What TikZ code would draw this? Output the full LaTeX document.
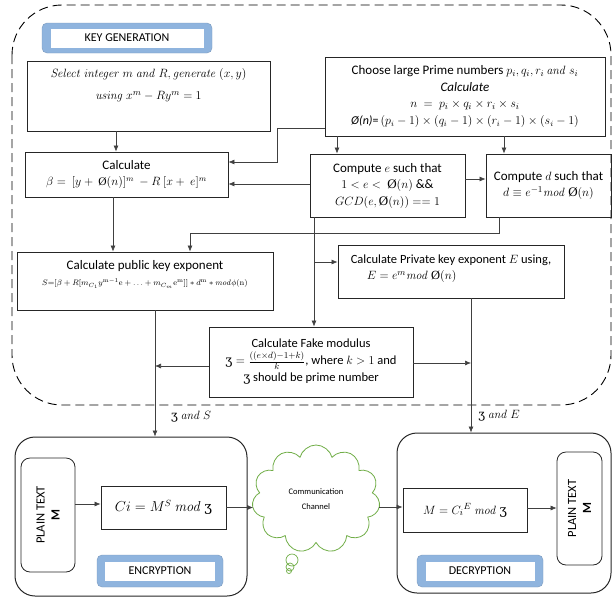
\documentclass[tikz,border=0pt]{standalone}
\usepackage{amsmath,amssymb}
\usepackage[no-math]{fontspec}
\setmainfont{Carlito-Regular.ttf}[ItalicFont=Carlito-Italic.ttf,BoldFont=Carlito-Bold.ttf,BoldItalicFont=Carlito-BoldItalic.ttf]
\newfontfamily\ezhfont{DejaVu Serif}
\newfontfamily\ofont{Liberation Serif}
\newcommand{\zh}{\text{\ezhfont ʒ}}
\newcommand{\Oh}{\text{\ofont Ø}}
\usetikzlibrary{arrows.meta,shapes.symbols}
\definecolor{labelblue}{RGB}{143,180,222}
\definecolor{cloudgreen}{RGB}{112,173,71}
\tikzset{mybox/.style={draw=black!85,line width=0.9pt,align=center,inner sep=3pt}}
\tikzset{myarrow/.style={draw=black!75,line width=0.6pt,-{Latex[length=6pt,width=5pt]}}}
\tikzset{mytag/.style={fill=labelblue,draw=labelblue!85!black,line width=0.4pt,rounded corners=5pt}}
\tikzset{mytagtext/.style={fill=white,inner sep=0pt,font=\fontsize{12}{14}\selectfont}}
\tikzset{mypanel/.style={draw=black!85,line width=1pt,rounded corners=20pt}}
\tikzset{myplain/.style={draw=black!85,line width=0.8pt,rounded corners=9pt,rotate=90,align=center,font=\fontsize{12.5}{15}\selectfont}}

\begin{document}
\begin{tikzpicture}[x=1pt,y=-1pt,font=\fontsize{13}{16.5}\selectfont]
	\useasboundingbox (0,0) rectangle (614,598);

	\draw[dash pattern=on 9pt off 5pt,line width=0.9pt,rounded corners=50pt] (12,5) rectangle (611,405);

	\node[mytag,minimum width=170pt,minimum height=30pt] (kgbox) at (127,38) {};
	\node[mytagtext,minimum width=153pt,minimum height=19pt] (kg) at (kgbox) {KEY GENERATION};

	% Key generation boxes
	\node[mybox,minimum width=243pt,minimum height=70pt,text depth=24pt] (sel) at (148.5,96)
		{$\mathit{Select\ integer}\ m\ \mathit{and}\ R, \mathit{generate}\ (x,y)$\\[6pt] $\mathit{using}\ x^m-Ry^m=1$};
	\node[mybox,minimum width=280pt,minimum height=79pt] (prime) at (465,96.5)
		{Choose large Prime numbers $p_i,q_i,r_i\,\mathit{and}\ s_i$\\ \textit{Calculate}\\ $n\ =\ p_i\times q_i\times r_i\times s_i$\\
		{\fontsize{12}{14}\selectfont\textit{Ø(n)}=\,$(p_i-1)\times(q_i-1)\times(r_i-1)\times(s_i-1)$}};
	\node[mybox,minimum width=203pt,minimum height=45pt] (beta) at (126.5,174.5)
		{Calculate\\ {\fontsize{11.5}{14}\selectfont$\beta=\ [y+\ \Oh(n)]^m\ -R\ [x+\ e]^m$}};
	\node[mybox,minimum width=155pt,minimum height=63pt] (cmpe) at (387.5,185.5)
		{Compute $e$ such that\\ $1<e<\ \Oh(n)$ \&\&\\ $GCD(e,\Oh(n))==1$};
	\node[mybox,minimum width=125pt,minimum height=63pt] (cmpd) at (548.5,185.5)
		{Compute $d$ such that\\ $d\equiv e^{-1}\mathit{mod}\ \Oh(n)$};
	\node[mybox,minimum width=256pt,minimum height=58pt,text depth=16pt] (pubkey) at (145,281)
		{Calculate public key exponent\\ {\fontsize{8}{10}\selectfont $S{=}[\beta+R[m_{C_1}y^{\mathrm{m}-1}\mathrm{e}+\ldots+m_{C_m}\mathrm{e}^{\mathrm{m}}]]*d^{\mathrm{m}}*\mathit{mod}\phi(\mathrm{n})$}};
	\node[mybox,align=left,minimum width=226pt,minimum height=53pt,text depth=8pt,font=\fontsize{12.5}{16}\selectfont] (privkey) at (451,271.5)
		{Calculate Private key exponent $E$ using,\\ \hspace{16pt}$E=e^m\mathit{mod}\ \Oh(n)$};
	\node[mybox,minimum width=204pt,minimum height=70pt,font=\fontsize{12.5}{17}\selectfont] (fakemod) at (311,362)
		{Calculate Fake modulus\\ $\zh=\frac{((e\times d)-1+k)}{k}$, where $k>1$ and\\ \zh{} should be prime number};

	\draw[myarrow] (116,0 |- sel.south) -- (116,0 |- beta.north);
	\draw[myarrow] (prime.west |- 0,128) -| (277,162) -- (beta.east |- 0,162);
	\draw[myarrow] (cmpe.west |- 0,184) -- (beta.east |- 0,184);
	\draw[myarrow] (337,0 |- prime.south) -- (337,0 |- cmpe.north);
	\draw[myarrow] (504,0 |- prime.south) -- (504,0 |- cmpd.north);
	\draw[myarrow] (cmpe.east |- 0,179) -- (cmpd.west |- 0,179);
	\draw[myarrow] (499,0 |- cmpd.south) |- (190,233) -- (190,0 |- pubkey.north);
	\draw[myarrow] (113,0 |- beta.south) -- (113,0 |- pubkey.north);
	\draw[myarrow] (314,0 |- cmpe.south) -- (314,0 |- fakemod.north);
	\draw[myarrow] (314,262) -- (privkey.west |- 0,262);
	\draw[myarrow] (fakemod.east |- 0,363) -- (471,363);
	\draw[myarrow] (fakemod.west |- 0,366) -- (155,366);

	% Encryption and decryption
	\node[mypanel,minimum width=232pt,minimum height=159pt] (enc) at (131,516.5) {};
	\node[mypanel,minimum width=214pt,minimum height=160pt] (dec) at (504,513) {};
	\node[myplain,minimum width=114pt,minimum height=54pt] (plainl) at (48,515) {PLAIN TEXT\\\textbf{M}};
	\node[myplain,minimum width=113pt,minimum height=45pt] (plainr) at (579.5,508.5) {PLAIN TEXT\\\textbf{M}};
	\node[mybox,minimum width=125pt,minimum height=43pt,font=\fontsize{13.5}{15}\selectfont] (ci) at (163.5,507.5)
		{$Ci=M^S\ \mathit{mod}\ \zh$};
	\node[mybox,minimum width=124pt,minimum height=44pt,font=\fontsize{13}{15}\selectfont] (mdec) at (465,510)
		{$M={C_i}^E\ \mathit{mod}\ \zh$};
	\node[mytag,minimum width=126pt,minimum height=32pt] (encbox) at (160,571) {};
	\node[mytagtext,minimum width=110pt,minimum height=19pt] (enclabel) at (encbox) {ENCRYPTION};
	\node[mytag,minimum width=126pt,minimum height=32pt] (decbox) at (480,571) {};
	\node[mytagtext,minimum width=109pt,minimum height=19pt] (declabel) at (decbox) {DECRYPTION};

	\node[cloud,draw=cloudgreen,line width=0.8pt,cloud puffs=11,aspect=1.2,minimum width=128pt,minimum height=108pt,
		align=center,font=\fontsize{8.5}{15}\selectfont] (chan) at (316,499) {Communication\\Channel};
	\draw[cloudgreen,line width=0.7pt] (292,560) circle (6pt) (290,567) circle (4pt) (289,571) circle (2.5pt);

	\node[font=\fontsize{12}{14}\selectfont] (zs) at (191,417) {$\zh\ \mathit{and}\ S$};
	\node[font=\fontsize{12}{14}\selectfont] (ze) at (499,416) {$\zh\ \mathit{and}\ E$};

	\draw[myarrow] (155,0 |- pubkey.south) -- (155,0 |- enc.north);
	\draw[myarrow] (471,0 |- privkey.south) -- (471,0 |- dec.north);
	\draw[myarrow] (plainl.south |- 0,504) -- (ci.west |- 0,504);
	\draw[myarrow] (ci.east) -- (chan.west |- ci.east);
	\draw[myarrow] (chan.east |- 0,507) -- (mdec.west |- 0,507);
	\draw[myarrow] (mdec.east |- 0,508) -- (plainr.north |- 0,508);

\end{tikzpicture}
\end{document}
